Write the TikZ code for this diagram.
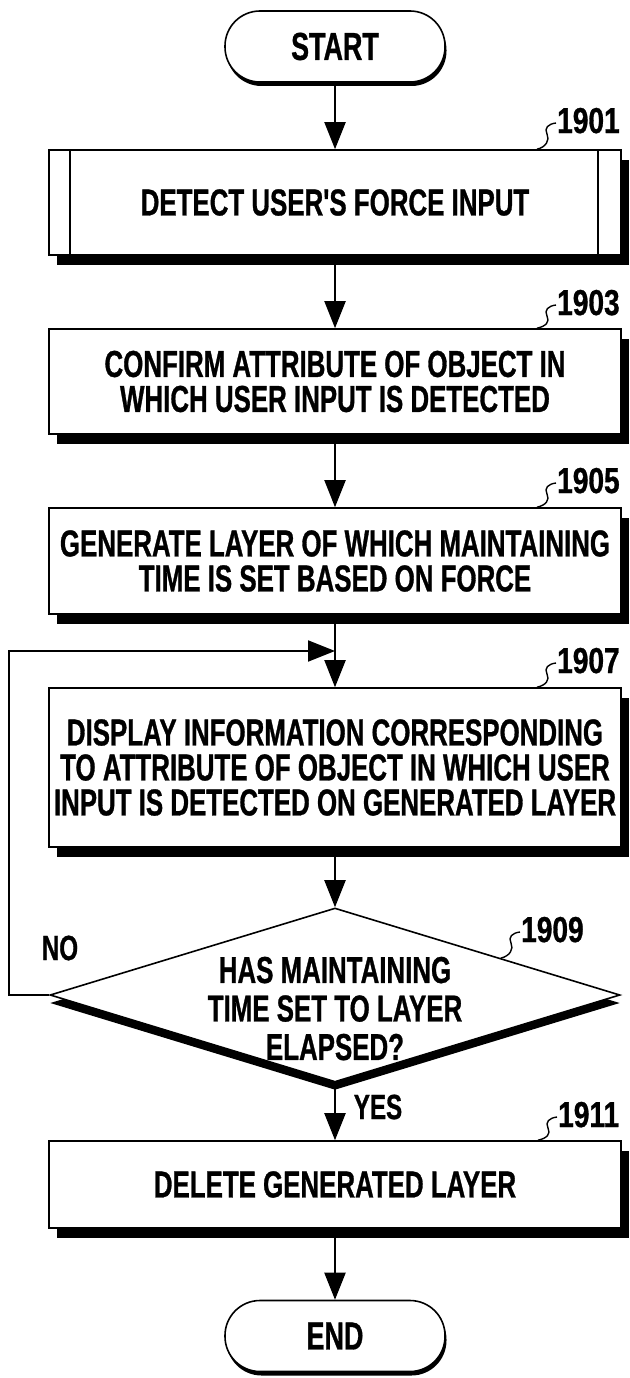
\documentclass[tikz,border=0pt]{standalone}
\usepackage{fontspec}
\newfontfamily\bodyfont{Liberation Sans}[FakeStretch=0.69,FakeBold=0.8]
\newfontfamily\numfont{Liberation Sans}[FakeStretch=0.78,FakeBold=0.8]
\usetikzlibrary{arrows.meta,shapes.geometric,shadows,calc}

% leader line from a reference numeral (#1) down to the outline point (#2)
\newcommand\leaderline[2]{%
  \draw[lead] ($(#1.base west)+(-1,-10)$)
    .. controls +(-8,1) and +(-3,-6) .. ++(-9,11)
    .. controls +(3,6) and +(9,-2) .. (#2);}

\begin{document}
\begin{tikzpicture}[x=1pt,y=-1pt,
  txt/.style={font=\bodyfont\bfseries\fontsize{37.5}{35}\selectfont},
  stepbox/.style={txt, draw, fill=white, rectangle, line width=1.6pt,
    minimum width=572pt, minimum height=#1, inner sep=0pt, align=center,
    general shadow={shadow xshift=8pt, shadow yshift=-10pt, fill=black, draw=none}},
  terminal/.style={txt, draw, fill=white, rectangle, rounded corners=35pt,
    line width=1.6pt, minimum width=220pt, minimum height=71pt,
    font=\bodyfont\bfseries\fontsize{39}{39}\selectfont,
    general shadow={shadow xshift=1.5pt, shadow yshift=-4pt, fill=black, draw=none}},
  decision/.style={txt, draw, fill=white, diamond, line width=1.6pt,
    minimum width=570pt, minimum height=174pt, inner sep=0pt,
    general shadow={shadow xshift=0pt, shadow yshift=-8pt, fill=black, draw=none}},
  refnum/.style={font=\numfont\bfseries\fontsize{36}{36}\selectfont, inner sep=0pt, anchor=base west},
  flow/.style={line width=2pt, -{Triangle[length=27pt,width=21pt]}},
  lead/.style={line width=1.4pt},
  answer/.style={font=\bodyfont\bfseries\fontsize{35}{35}\selectfont, inner sep=0pt}]

\fill[white] (0,0) rectangle (629,1378);
\useasboundingbox (0,0) rectangle (629,1378);

% terminals
\node[terminal] (start) at (335,46.5) {START};
\node[terminal] (end) at (335,1336) {END};

% process steps
\node[stepbox=105pt] (b1) at (335,202.5) {DETECT USER'S FORCE INPUT};
\draw[line width=1.6pt] ($(b1.north west)+(22,0)$) -- ($(b1.south west)+(22,0)$);
\draw[line width=1.6pt] ($(b1.north east)+(-24,0)$) -- ($(b1.south east)+(-24,0)$);

\node[stepbox=105pt] (b3) at (335,381.5)
  {CONFIRM ATTRIBUTE OF OBJECT IN\\WHICH USER INPUT IS DETECTED};
\node[stepbox=106pt] (b5) at (335,561)
  {GENERATE LAYER OF WHICH MAINTAINING\\TIME IS SET BASED ON FORCE};
\node[stepbox=159pt] (b7) at (335,767.5)
  {DISPLAY INFORMATION CORRESPONDING\\TO ATTRIBUTE OF OBJECT IN WHICH USER\\INPUT IS DETECTED ON GENERATED LAYER};

% decision
\node[decision] (dec) at (335,995)
  {\raisebox{-25pt}[0pt][0pt]{\makebox[0pt]{\fontsize{37.5}{38.5}\selectfont
   \begin{tabular}{@{}c@{}}HAS MAINTAINING\\TIME SET TO LAYER\\ELAPSED?\end{tabular}}}};

\node[stepbox=87pt] (b11) at (335,1184.5) {DELETE GENERATED LAYER};

% flow
\draw[flow] (start) -- (b1);
\draw[flow] (b1) -- (b3);
\draw[flow] (b3) -- (b5);
\draw[flow] (b5) -- (b7);
\draw[flow] (b7) -- (dec);
\draw[flow] (dec) -- (b11);
\draw[flow] (b11) -- (end);
\coordinate (join) at ($(b5.south)!0.5!(b7.north)$);
\coordinate (loopx) at (9,0);
\draw[flow] (dec.west) -- (dec.west -| loopx) |- (join);

% branch answers
\node[answer] (no) at (60,948) {NO};
\node[answer] (yes) at (378,1107) {YES};

% reference numerals
\node[refnum] (r1) at (557,133) {1901};
\node[refnum] (r3) at (557,315) {1903};
\node[refnum] (r5) at (557,493) {1905};
\node[refnum] (r7) at (557,673) {1907};
\node[refnum] (r9) at (521,942) {1909};
\node[refnum] (r11) at (558,1127) {1911};

\coordinate (t1) at ($(b1.north)+(202,0)$);
\coordinate (t3) at ($(b3.north)+(202,0)$);
\coordinate (t5) at ($(b5.north)+(202,0)$);
\coordinate (t7) at ($(b7.north)+(202,0)$);
\coordinate (t9) at ($(dec.north)!0.58!(dec.east)$);
\coordinate (t11) at ($(b11.north)+(203,0)$);
\leaderline{r1}{t1}
\leaderline{r3}{t3}
\leaderline{r5}{t5}
\leaderline{r7}{t7}
\leaderline{r9}{t9}
\leaderline{r11}{t11}
\end{tikzpicture}
\end{document}
